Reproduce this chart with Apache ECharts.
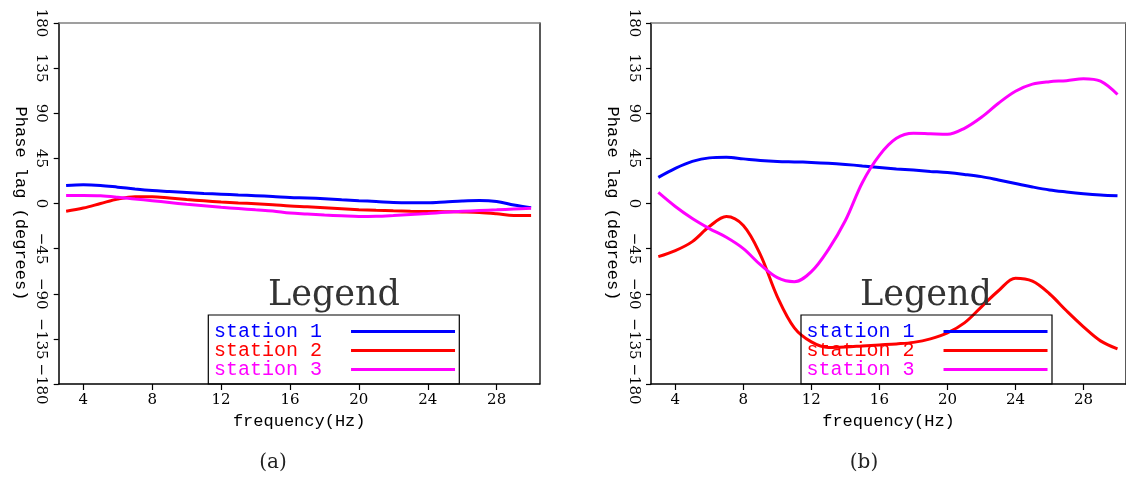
<!DOCTYPE html>
<html><head><meta charset="utf-8">
<script src="https://cdn.jsdelivr.net/npm/echarts@6/dist/echarts.min.js"></script>
<style>html,body{margin:0;padding:0;background:#fff}#c{width:1126px;height:477px}</style>
</head><body><div id="c"></div><script>
// ---- data ----
const freq = [3,4,5,6,7,8,9,10,11,12,13,14,15,16,17,18,19,20,21,22,23,24,25,26,27,28,29,30];
const stationNames = ['station 1', 'station 2', 'station 3'];
// panel (a)
const aStation1 = [18,18.7,18,16.3,14.5,13,12,11,10,9.3,8.5,7.8,7,6,5.5,4.7,3.7,2.8,2,1,0.7,0.7,1.5,2.5,3,2,-1.5,-4.3];
const aStation2 = [-7.7,-4.5,0,4.5,6.8,6.8,5.5,4,2.7,1.5,0.5,-0.2,-1.2,-2.5,-3.3,-4.3,-5.3,-6.2,-6.8,-7.3,-7.7,-8,-8.2,-8.5,-9,-10.3,-12,-12];
const aStation3 = [8,8,7.7,6.3,4.5,2.8,1,-0.8,-2.3,-3.8,-5,-6.3,-7.5,-9.5,-10.5,-11.5,-12.3,-13,-12.8,-12,-11,-10,-8.7,-7.8,-7,-6.3,-5.5,-4.7];
// panel (b)
const bStation1 = [26,35,42,45.5,46,44.5,43,42,41.5,41,40.2,39,37.5,36,34.5,33.3,32,30.8,29,26.8,23.5,20,16.5,13.5,11.5,9.8,8.5,7.7];
const bStation2 = [-53,-47,-38,-23,-13,-22,-51,-93,-124,-138,-143.5,-143,-142,-141,-140,-138.5,-135,-129,-119,-103,-87,-74.5,-77.5,-90,-107,-123,-137,-145];
const bStation3 = [11,-3,-15,-25,-33.7,-45,-61,-74,-78,-68,-46,-17,21,48,65,70,69.5,69,75,86,100,112,119,121.5,122.5,124.5,122,108.7];
const xTicks = [4,8,12,16,20,24,28];
const yTicks = [-180,-135,-90,-45,0,45,90,135,180];
const xName = 'frequency(Hz)';
const yName = 'Phase lag (degrees)';
const panelLabels = ['(a)', '(b)'];
const legendTitle = 'Legend';

// ---- styles ----
const colors = ['#0000ff', '#ff0000', '#ff00ff'];
const serif = 'DejaVu Serif';
const mono = 'Liberation Mono';
const panels = [
  {left: 58.7, data: [aStation1, aStation2, aStation3], legendLeft: 214, boxX: 208.3, titleX: 334, capX: 273},
  {left: 651, data: [bStation1, bStation2, bStation3], legendLeft: 806.5, boxX: 801, titleX: 926, capX: 864}
];
const xMin = 2.57, xMax = 30.5;

const grids = [], xAxes = [], yAxes = [], series = [], legends = [], graphics = [];
panels.forEach((p, gi) => {
  grids.push({left: p.left, top: 23, width: 481, height: 361});
  xAxes.push({
    type: 'value', gridIndex: gi, min: xMin, max: xMax, position: 'bottom',
    axisLine: {onZero: false, lineStyle: {color: '#000', width: 1.5}},
    axisTick: {show: true, inside: false, length: 6, customValues: xTicks, lineStyle: {color: '#000', width: 1.2}},
    axisLabel: {customValues: xTicks, color: '#000', fontFamily: serif, fontSize: 15, margin: 9},
    splitLine: {show: false},
    name: xName, nameLocation: 'middle', nameGap: 28,
    nameTextStyle: {fontFamily: mono, fontSize: 17, color: '#000'}
  });
  xAxes.push({
    type: 'value', gridIndex: gi, min: xMin, max: xMax, position: 'top',
    axisLine: {onZero: false, lineStyle: {color: '#808080', width: 1.5}},
    axisTick: {show: false}, axisLabel: {show: false}, splitLine: {show: false}
  });
  yAxes.push({
    type: 'value', gridIndex: gi, min: yTicks[0], max: yTicks[yTicks.length - 1], interval: 45, position: 'left',
    axisLine: {show: true, onZero: false, lineStyle: {color: '#000', width: 1.5}},
    axisTick: {show: true, inside: false, length: 5, lineStyle: {color: '#000', width: 1.2}},
    axisLabel: {rotate: -90, color: '#000', fontFamily: serif, fontSize: 15, margin: 10,
      formatter: v => String(v).replace('-', '\u2212')},
    splitLine: {show: false},
    name: yName, nameLocation: 'middle', nameRotate: -90, nameGap: 30,
    nameTextStyle: {fontFamily: mono, fontSize: 17, color: '#000'}
  });
  yAxes.push({
    type: 'value', gridIndex: gi, min: yTicks[0], max: yTicks[yTicks.length - 1], position: 'right',
    axisLine: {show: true, onZero: false, lineStyle: {color: '#222', width: 1.5}},
    axisTick: {show: false}, axisLabel: {show: false}, splitLine: {show: false}
  });
  p.data.forEach((arr, si) => {
    series.push({
      type: 'line', name: stationNames[si], xAxisIndex: gi * 2, yAxisIndex: gi * 2,
      data: freq.map((f, i) => [f, arr[i]]),
      symbol: 'none', showSymbol: false, smooth: 0.35, color: colors[si],
      lineStyle: {width: 3, color: colors[si]}, z: 2 + si
    });
  });
  legends.push({
    orient: 'vertical', align: 'right', left: p.legendLeft, top: 321.5, padding: 0,
    itemGap: -1, itemWidth: 104, itemHeight: 3, icon: 'rect', selectedMode: false,
    formatter: n => n + '  ',
    textStyle: {fontFamily: mono, fontSize: 20, lineHeight: 19},
    data: stationNames.map((n, si) => ({name: n, icon: 'rect', itemStyle: {color: colors[si]}, textStyle: {color: colors[si]}}))
  });
  graphics.push({type: 'rect', shape: {x: p.boxX, y: 315, width: 251, height: 69},
    style: {fill: 'none', stroke: '#000', lineWidth: 1.2}, z: 10});
  graphics.push({type: 'text', x: p.titleX, y: 296,
    style: {text: legendTitle, font: '35px "' + serif + '"', fill: '#333', textAlign: 'center', textVerticalAlign: 'middle'}, z: 10});
  graphics.push({type: 'text', x: p.capX, y: 463,
    style: {text: panelLabels[gi], font: '20px "' + serif + '"', fill: '#222', textAlign: 'center', textVerticalAlign: 'middle'}, z: 10});
});

const chart = echarts.init(document.getElementById('c'), null, {renderer: 'canvas'});
chart.setOption({
  backgroundColor: '#fff', animation: false,
  grid: grids, xAxis: xAxes, yAxis: yAxes, series: series, legend: legends, graphic: graphics
});
</script></body></html>
